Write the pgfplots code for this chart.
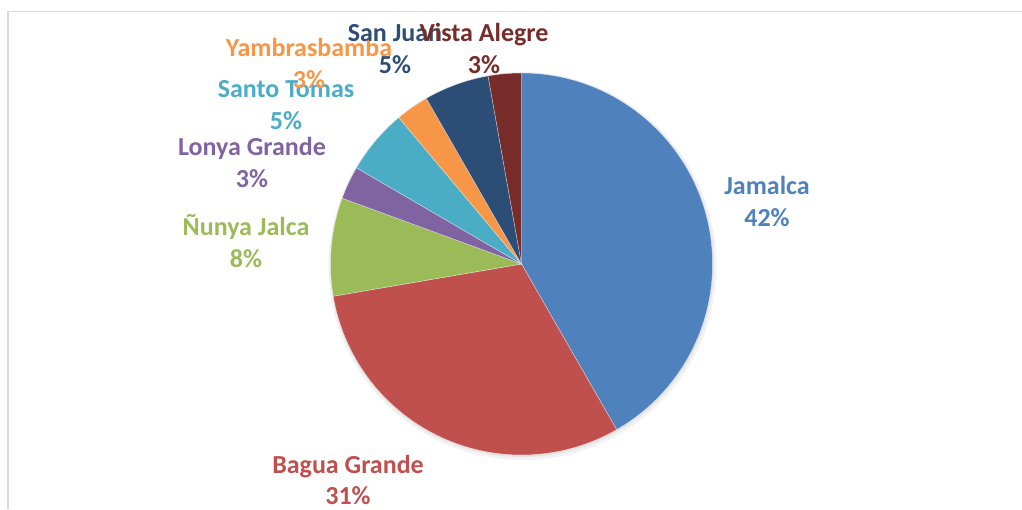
\documentclass[border=0pt]{standalone}
\usepackage{pgfplots}
\pgfplotsset{compat=1.18}
\usepackage{pgfplotstable}
\usepackage{fontspec}
\setmainfont{Carlito}

\definecolor{cJam}{HTML}{4F81BD}
\definecolor{cBag}{HTML}{C0504D}
\definecolor{cNun}{HTML}{9BBB59}
\definecolor{cLon}{HTML}{8064A2}
\definecolor{cSto}{HTML}{4BACC6}
\definecolor{cYam}{HTML}{F79646}
\definecolor{cSjn}{HTML}{2C4D75}
\definecolor{cVis}{HTML}{772C2A}
\definecolor{frame}{HTML}{D9D9D9}

% slice share (%), shown label, colour, label position (px from top-left)
\pgfplotstableread[col sep=comma]{
name,value,pct,col,lx,ly
Jamalca,41.7,42,cJam,767,195
Bagua Grande,30.6,31,cBag,348,473
Ñunya Jalca,8.3,8,cNun,246,236
Lonya Grande,2.8,3,cLon,252,156
Santo Tomas,5.5,5,cSto,286,98
Yambrasbamba,2.8,3,cYam,309,57
San Juan,5.5,5,cSjn,395,42
Vista Alegre,2.8,3,cVis,484,42
}\piedata

\begin{document}
\begin{tikzpicture}
\begin{axis}[
  scale only axis, width=1022bp, height=509bp,
  xmin=0, xmax=1022, ymin=0, ymax=509,
  hide axis, clip=false,
]
\pgfplotsextra{
  \coordinate (bl) at (axis cs:0,0);
  \coordinate (tr) at (axis cs:1022,509);
  % frame of the chart area
  \draw[frame, line width=1.5bp] (axis cs:8,0) -- (axis cs:8,497.5) -- (axis cs:1022,497.5);
  % soft shadow
  \fill[black, opacity=0.05] (axis cs:522.5,243) circle (194bp);
  \fill[black, opacity=0.06] (axis cs:522,244) circle (192bp);
  \pgfplotstablegetrowsof{\piedata}
  \pgfmathtruncatemacro\nrows{\pgfplotsretval-1}
  \xdef\startang{90}
  \foreach \i in {0,...,\nrows} {
    \pgfplotstablegetelem{\i}{value}\of\piedata \let\v\pgfplotsretval
    \pgfplotstablegetelem{\i}{col}\of\piedata \let\slicecol\pgfplotsretval
    \pgfmathsetmacro\endang{\startang-3.6*\v}
    \fill[fill=\slicecol, draw=white, draw opacity=0.5, line width=0.5bp]
      (axis cs:521.5,245) -- ++(\startang:191bp)
      arc[start angle=\startang, end angle=\endang, radius=191bp] -- cycle;
    \xdef\startang{\endang}
  }
  \foreach \i in {0,...,\nrows} {
    \pgfplotstablegetelem{\i}{name}\of\piedata \let\nm\pgfplotsretval
    \pgfplotstablegetelem{\i}{pct}\of\piedata \let\pc\pgfplotsretval
    \pgfplotstablegetelem{\i}{col}\of\piedata \let\slicecol\pgfplotsretval
    \pgfplotstablegetelem{\i}{lx}\of\piedata \let\lx\pgfplotsretval
    \pgfplotstablegetelem{\i}{ly}\of\piedata \let\ly\pgfplotsretval
    \pgfmathsetmacro\yA{509-\ly}
    \pgfmathsetmacro\yB{509-\ly-31.5}
    \node[text=\slicecol, anchor=base, inner sep=0pt,
      font=\fontsize{26bp}{32bp}\selectfont\bfseries] at (axis cs:\lx,\yA) {\nm};
    \node[text=\slicecol, anchor=base, inner sep=0pt,
      font=\fontsize{26bp}{32bp}\selectfont\bfseries] at (axis cs:\lx,\yB) {\pc\%};
  }
}
\end{axis}
\pgfresetboundingbox
\path[use as bounding box] (bl) rectangle (tr);
\end{tikzpicture}
\end{document}
